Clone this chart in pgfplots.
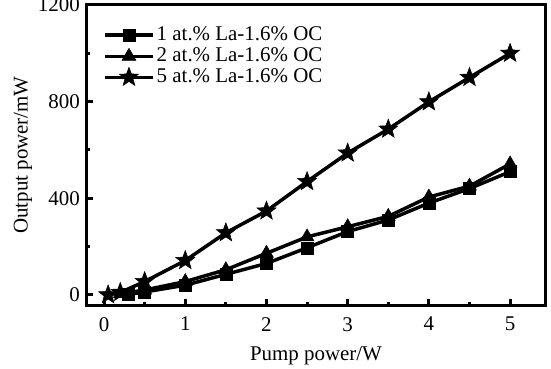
\documentclass[border=0pt]{standalone}
\usepackage{fontspec}
\setmainfont{Liberation Serif}
\usepackage{pgfplots}
\pgfplotsset{compat=1.18}
\usetikzlibrary{calc}
\pgfdeclareplotmark{fstar}{%
  \pgfpathmoveto{\pgfpointpolar{90}{\pgfplotmarksize}}%
  \pgfpathlineto{\pgfpointpolar{126}{0.42\pgfplotmarksize}}%
  \pgfpathlineto{\pgfpointpolar{162}{\pgfplotmarksize}}%
  \pgfpathlineto{\pgfpointpolar{198}{0.42\pgfplotmarksize}}%
  \pgfpathlineto{\pgfpointpolar{234}{\pgfplotmarksize}}%
  \pgfpathlineto{\pgfpointpolar{270}{0.42\pgfplotmarksize}}%
  \pgfpathlineto{\pgfpointpolar{306}{\pgfplotmarksize}}%
  \pgfpathlineto{\pgfpointpolar{342}{0.42\pgfplotmarksize}}%
  \pgfpathlineto{\pgfpointpolar{18}{\pgfplotmarksize}}%
  \pgfpathlineto{\pgfpointpolar{54}{0.42\pgfplotmarksize}}%
  \pgfpathclose
  \pgfusepathqfillstroke}
\pgfplotstableread{
x y
0.3 2
0.5 12
1.0 40
1.5 85
2.0 130
2.5 195
3.0 262
3.5 310
4.0 380
4.5 440
5.0 510
}\dataA
\pgfplotstableread{
x y
0.2 5
0.5 20
1.0 55
1.5 104
2.0 172
2.5 240
3.0 282
3.5 325
4.0 405
4.5 450
5.0 542
}\dataB
\pgfplotstableread{
x y
0.05 0
0.2 10
0.5 55
1.0 142
1.5 257
2.0 347
2.5 469
3.0 587
3.5 686
4.0 799
4.5 900
5.0 1000
}\dataC
\begin{document}
\fontsize{21}{25}\selectfont
\begin{tikzpicture}
\begin{axis}[name=ax, scale only axis, width=458bp, height=300bp,
  xmin=-0.21, xmax=5.43, ymin=-42, ymax=1200,
  xtick={0,1,2,3,4,5}, ytick={0,400,800,1200},
  minor xtick={0.5,1.5,2.5,3.5,4.5}, minor ytick={200,600,1000},
  tick align=inside, xtick pos=left, ytick pos=left,
  major tick length=6bp, minor tick length=3bp,
  axis line style={line width=3bp},
  every tick/.style={line width=3bp, black},
  /pgf/number format/assume math mode=true,
  /pgf/number format/1000 sep={},
  tick label style={font=\fontsize{21}{25}\selectfont},
  x tick label style={yshift=-5bp},
  label style={font=\fontsize{21}{25}\selectfont},
  xlabel={Pump power/W}, ylabel={Output power/mW},
  xlabel style={at={(axis description cs:0.5,-0.17)}, anchor=center},
  ylabel style={at={(axis description cs:-0.14,0.5)}, anchor=center},
  legend style={at={(axis description cs:0.035,0.935)}, anchor=north west,
    draw=none, fill=none, inner sep=0pt, row sep=0bp,
    font=\fontsize{21}{25}\selectfont},
  legend cell align=left,
  legend image code/.code={\draw[mark repeat=2,mark phase=2] plot coordinates {(0bp,0bp)(24bp,0bp)(48bp,0bp)};},
  every axis plot/.append style={black, line width=3.5bp, mark options={solid, fill=black, line width=0.5bp}},
]
\addplot[mark=square*, mark size=6bp] table {\dataA};
\addlegendentry{1 at.\% La-1.6\% OC}
\addplot[mark=triangle*, mark size=8bp] table {\dataB};
\addlegendentry{2 at.\% La-1.6\% OC}
\addplot[mark=fstar, mark size=10bp] table {\dataC};
\addlegendentry{5 at.\% La-1.6\% OC}
\end{axis}
\pgfresetboundingbox
\useasboundingbox ($(ax.south west)+(-87bp,-64bp)$) rectangle ($(ax.north east)+(6bp,5bp)$);
\end{tikzpicture}
\end{document}
